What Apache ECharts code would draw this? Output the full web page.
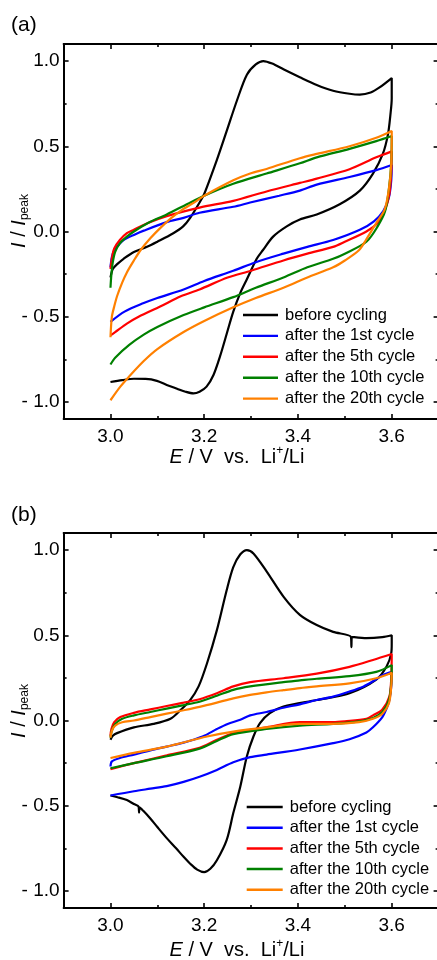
<!DOCTYPE html>
<html>
<head>
<meta charset="utf-8">
<script src="https://cdn.jsdelivr.net/npm/echarts@6/dist/echarts.min.js"></script>
<style>
  html, body { margin: 0; padding: 0; background: #fff; }
  #main { width: 437px; height: 960px; }
</style>
</head>
<body>
<div id="main"></div>
<script>
// legend names and colours
var names = ['before cycling', 'after the 1st cycle', 'after the 5th cycle', 'after the 10th cycle', 'after the 20th cycle'];
var colors = ['#000000', '#0000ff', '#ff0000', '#008000', '#ff8000'];

// tick positions
var xMajor = [3.0, 3.2, 3.4, 3.6];
var xMinor = [3.1, 3.3, 3.5];
var yMajor = [-1.0, -0.5, 0.0, 0.5, 1.0];
var yMinor = [-0.75, -0.25, 0.25, 0.75];

// panel (a): [E, I/Ipeak], forward scan then reverse scan
var aBefore = [
  [3.0,-0.27],[3.005,-0.22],[3.015,-0.19],[3.028,-0.16],[3.05,-0.12],[3.078,-0.09],[3.1,-0.06],[3.134,-0.01],
  [3.155,0.03],[3.17,0.08],[3.19,0.17],[3.2,0.22],[3.227,0.42],[3.248,0.59],[3.27,0.77],[3.291,0.92],[3.31,0.98],
  [3.326,1.0],[3.345,0.985],[3.37,0.95],[3.404,0.905],[3.44,0.86],[3.475,0.826],[3.51,0.808],[3.532,0.803],
  [3.555,0.815],[3.574,0.845],[3.6,0.90],
  [3.6,0.78],[3.597,0.68],[3.592,0.57],[3.581,0.455],[3.56,0.34],[3.532,0.24],[3.489,0.16],[3.44,0.10],[3.404,0.07],
  [3.376,0.03],[3.347,-0.03],[3.325,-0.11],[3.312,-0.16],[3.291,-0.28],[3.277,-0.36],[3.262,-0.47],[3.248,-0.6],
  [3.234,-0.73],[3.22,-0.84],[3.205,-0.91],[3.19,-0.94],[3.177,-0.95],[3.16,-0.94],[3.142,-0.922],[3.12,-0.9],
  [3.099,-0.876],[3.075,-0.865],[3.05,-0.864],[3.025,-0.872],[3.0,-0.883]
];
var aCycle1 = [
  [3.0,-0.21],[3.003,-0.15],[3.008,-0.11],[3.02,-0.07],[3.028,-0.05],[3.05,-0.02],[3.071,0.005],[3.12,0.055],
  [3.156,0.08],[3.19,0.11],[3.262,0.145],[3.298,0.17],[3.36,0.21],[3.404,0.24],[3.44,0.275],[3.51,0.32],[3.567,0.36],[3.6,0.39],
  [3.599,0.3],[3.594,0.2],[3.582,0.12],[3.562,0.06],[3.532,0.01],[3.475,-0.05],[3.42,-0.09],[3.369,-0.13],[3.31,-0.18],
  [3.262,-0.23],[3.2,-0.29],[3.156,-0.34],[3.1,-0.39],[3.071,-0.42],[3.03,-0.47],[3.0,-0.53]
];
var aCycle5 = [
  [3.0,-0.22],[3.003,-0.16],[3.008,-0.1],[3.02,-0.05],[3.035,-0.01],[3.05,0.01],[3.08,0.05],[3.12,0.09],[3.19,0.14],
  [3.262,0.18],[3.333,0.235],[3.404,0.285],[3.44,0.31],[3.51,0.365],[3.567,0.435],[3.6,0.47],
  [3.599,0.35],[3.595,0.22],[3.585,0.12],[3.57,0.05],[3.546,0.0],[3.5,-0.06],[3.475,-0.09],[3.42,-0.13],[3.369,-0.17],
  [3.3,-0.23],[3.25,-0.27],[3.19,-0.34],[3.15,-0.38],[3.106,-0.44],[3.06,-0.5],[3.035,-0.54],[3.01,-0.59],[3.0,-0.61]
];
var aCycle10 = [
  [3.0,-0.33],[3.002,-0.25],[3.005,-0.18],[3.01,-0.12],[3.02,-0.07],[3.035,-0.03],[3.05,0.0],[3.08,0.05],[3.12,0.1],
  [3.163,0.16],[3.2,0.21],[3.262,0.28],[3.333,0.34],[3.404,0.4],[3.44,0.435],[3.51,0.485],[3.567,0.53],[3.6,0.56],
  [3.599,0.4],[3.594,0.25],[3.586,0.12],[3.57,0.03],[3.546,-0.06],[3.5,-0.13],[3.475,-0.16],[3.42,-0.21],[3.369,-0.27],
  [3.31,-0.33],[3.262,-0.385],[3.2,-0.445],[3.156,-0.49],[3.1,-0.56],[3.071,-0.605],[3.04,-0.665],[3.01,-0.74],[3.0,-0.78]
];
var aCycle20 = [
  [3.0,-0.62],[3.003,-0.5],[3.008,-0.44],[3.014,-0.38],[3.025,-0.3],[3.035,-0.24],[3.05,-0.17],[3.064,-0.11],[3.085,-0.04],
  [3.106,0.02],[3.13,0.08],[3.149,0.12],[3.184,0.18],[3.2,0.21],[3.262,0.3],[3.298,0.34],[3.333,0.367],[3.404,0.43],
  [3.44,0.455],[3.51,0.5],[3.567,0.55],[3.6,0.59],
  [3.599,0.4],[3.594,0.25],[3.585,0.13],[3.567,0.05],[3.545,-0.05],[3.53,-0.11],[3.5,-0.17],[3.475,-0.21],[3.42,-0.27],
  [3.369,-0.33],[3.31,-0.39],[3.262,-0.445],[3.2,-0.525],[3.156,-0.59],[3.1,-0.69],[3.071,-0.76],[3.04,-0.85],[3.021,-0.91],[3.0,-0.99]
];

// panel (b)
var bBefore = [
  [3.0,-0.113],[3.005,-0.09],[3.014,-0.074],[3.05,-0.04],[3.092,-0.02],[3.128,0.01],[3.149,0.06],[3.17,0.12],[3.188,0.2],
  [3.206,0.336],[3.227,0.53],[3.248,0.766],[3.262,0.9],[3.277,0.975],[3.291,1.0],[3.305,0.98],[3.333,0.875],[3.369,0.727],
  [3.404,0.62],[3.44,0.56],[3.475,0.52],[3.513,0.49],[3.514,0.43],[3.515,0.49],[3.546,0.483],[3.58,0.489],[3.6,0.5],
  [3.6,0.45],[3.599,0.395],[3.589,0.317],[3.567,0.24],[3.51,0.16],[3.44,0.12],[3.369,0.082],[3.34,0.043],[3.319,-0.015],
  [3.305,-0.094],[3.291,-0.21],[3.277,-0.387],[3.262,-0.543],[3.248,-0.7],[3.227,-0.82],[3.213,-0.87],[3.2,-0.89],
  [3.185,-0.875],[3.17,-0.84],[3.156,-0.8],[3.14,-0.75],[3.12,-0.69],[3.1,-0.625],[3.085,-0.575],[3.07,-0.53],
  [3.062,-0.51],[3.061,-0.54],[3.06,-0.505],[3.05,-0.49],[3.035,-0.467],[3.015,-0.45],[3.0,-0.44]
];
var bCycle1 = [
  [3.0,-0.27],[3.003,-0.24],[3.02,-0.22],[3.05,-0.2],[3.085,-0.175],[3.12,-0.153],[3.156,-0.13],[3.177,-0.113],[3.2,-0.09],
  [3.227,-0.05],[3.25,-0.02],[3.277,0.004],[3.298,0.03],[3.333,0.05],[3.369,0.075],[3.404,0.095],[3.44,0.12],[3.475,0.14],
  [3.51,0.17],[3.54,0.2],[3.56,0.23],[3.58,0.265],[3.6,0.285],
  [3.599,0.2],[3.595,0.12],[3.589,0.07],[3.58,0.02],[3.56,-0.04],[3.546,-0.07],[3.51,-0.11],[3.475,-0.133],[3.404,-0.17],
  [3.333,-0.2],[3.298,-0.215],[3.262,-0.245],[3.227,-0.29],[3.19,-0.33],[3.156,-0.36],[3.12,-0.385],[3.085,-0.4],[3.05,-0.415],[3.0,-0.44]
];
var bCycle5 = [
  [3.0,-0.09],[3.002,-0.05],[3.008,-0.01],[3.021,0.02],[3.05,0.045],[3.085,0.065],[3.12,0.085],[3.156,0.105],[3.19,0.125],
  [3.227,0.16],[3.262,0.2],[3.298,0.225],[3.369,0.248],[3.44,0.275],[3.51,0.315],[3.56,0.355],[3.6,0.39],
  [3.599,0.25],[3.595,0.14],[3.58,0.065],[3.56,0.03],[3.546,0.01],[3.5,-0.005],[3.475,-0.01],[3.404,-0.01],[3.333,-0.04],
  [3.298,-0.055],[3.262,-0.075],[3.227,-0.113],[3.19,-0.16],[3.12,-0.205],[3.05,-0.25],[3.0,-0.285]
];
var bCycle10 = [
  [3.0,-0.1],[3.003,-0.06],[3.01,-0.02],[3.025,0.01],[3.05,0.03],[3.085,0.05],[3.12,0.07],[3.156,0.09],[3.19,0.11],
  [3.227,0.145],[3.262,0.18],[3.298,0.2],[3.369,0.225],[3.404,0.235],[3.44,0.245],[3.51,0.26],[3.567,0.285],[3.6,0.325],
  [3.599,0.22],[3.594,0.12],[3.58,0.05],[3.56,0.015],[3.53,-0.005],[3.475,-0.02],[3.404,-0.03],[3.333,-0.05],
  [3.262,-0.08],[3.227,-0.12],[3.19,-0.165],[3.12,-0.21],[3.05,-0.25],[3.0,-0.28]
];
var bCycle20 = [
  [3.0,-0.1],[3.003,-0.06],[3.01,-0.03],[3.025,-0.01],[3.05,0.0],[3.085,0.02],[3.12,0.04],[3.156,0.06],[3.19,0.08],
  [3.227,0.105],[3.262,0.13],[3.298,0.15],[3.333,0.165],[3.369,0.178],[3.404,0.19],[3.44,0.2],[3.51,0.218],[3.567,0.248],[3.6,0.28],
  [3.599,0.2],[3.594,0.1],[3.58,0.04],[3.56,0.01],[3.53,-0.01],[3.475,-0.02],[3.404,-0.02],[3.333,-0.04],[3.262,-0.065],
  [3.206,-0.094],[3.12,-0.153],[3.05,-0.19],[3.0,-0.22]
];

var panels = [
  [aBefore, aCycle1, aCycle5, aCycle10, aCycle20],
  [bBefore, bCycle1, bCycle5, bCycle10, bCycle20]
];

var FONT = '"Liberation Sans", Arial, sans-serif';
var gridTops = [44, 533];

function fmtY(v) {
    if (v < 0) return '- ' + (-v).toFixed(1);
    return v.toFixed(1);
}

var grids = [], xAxes = [], yAxes = [], series = [], legends = [];
for (var g = 0; g < 2; g++) {
    grids.push({left: 63.6, top: gridTops[g], width: 375, height: 375, outerBoundsMode: 'none', containLabel: false});
    var sides = ['bottom', 'top'];
    for (var s = 0; s < 2; s++) {
        // major ticks + labels
        xAxes.push({
            gridIndex: g, type: 'value', position: sides[s], min: 2.9, max: 3.7, interval: 0.1,
            axisLine: {show: true, onZero: false, lineStyle: {color: '#000', width: 2}},
            axisTick: {show: true, inside: true, length: 5, customValues: xMajor, lineStyle: {color: '#000', width: 1.6}},
            axisLabel: {show: s == 0, customValues: xMajor, formatter: function (v) { return v.toFixed(1); },
                fontSize: 19, fontFamily: FONT, color: '#000', margin: 8},
            splitLine: {show: false}
        });
        // minor ticks
        xAxes.push({
            gridIndex: g, type: 'value', position: sides[s], min: 2.9, max: 3.7, interval: 0.1,
            axisLine: {show: false, onZero: false},
            axisTick: {show: true, inside: true, length: 3, customValues: xMinor, lineStyle: {color: '#000', width: 1.6}},
            axisLabel: {show: false},
            splitLine: {show: false}
        });
    }
    var ysides = ['left', 'right'];
    for (var s = 0; s < 2; s++) {
        yAxes.push({
            gridIndex: g, type: 'value', position: ysides[s], min: -1.1, max: 1.1, interval: 0.1,
            axisLine: {show: true, onZero: false, lineStyle: {color: '#000', width: 2}},
            axisTick: {show: true, inside: true, length: 5, customValues: yMajor, lineStyle: {color: '#000', width: 1.6}},
            axisLabel: {show: s == 0, customValues: yMajor, formatter: fmtY,
                fontSize: 19, fontFamily: FONT, color: '#000', margin: 4},
            splitLine: {show: false}
        });
        yAxes.push({
            gridIndex: g, type: 'value', position: ysides[s], min: -1.1, max: 1.1, interval: 0.1,
            axisLine: {show: false, onZero: false},
            axisTick: {show: true, inside: true, length: 3, customValues: yMinor, lineStyle: {color: '#000', width: 1.6}},
            axisLabel: {show: false},
            splitLine: {show: false}
        });
    }
    for (var i = 0; i < 5; i++) {
        series.push({
            name: names[i], type: 'line', xAxisIndex: g * 4, yAxisIndex: g * 4,
            data: panels[g][i], symbol: 'none', smooth: 0.3, animation: false,
            lineStyle: {color: colors[i], width: 2.2}, itemStyle: {color: colors[i]}
        });
    }
}

var legendIcon = 'path://M0,0H35V2.4H0Z';
legends.push({
    orient: 'vertical', left: 243, top: 306.5, padding: 0, itemWidth: 35, itemHeight: 14, itemGap: 3.9,
    icon: legendIcon, data: names, selectedMode: false,
    textStyle: {fontSize: 16.5, fontFamily: FONT, color: '#000', padding: [0, 0, 0, 2]}
});
legends.push({
    orient: 'vertical', left: 246.7, top: 798.5, padding: 0, itemWidth: 36, itemHeight: 14, itemGap: 3.7,
    icon: legendIcon, data: names, selectedMode: false,
    textStyle: {fontSize: 16.5, fontFamily: FONT, color: '#000', padding: [0, 0, 0, 2]}
});

var richNames = {
    i: {fontSize: 20, fontFamily: FONT, fontStyle: 'italic', lineHeight: 24, fill: '#000'},
    n: {fontSize: 20, fontFamily: FONT, lineHeight: 24, fill: '#000'},
    sub: {fontSize: 12, fontFamily: FONT, verticalAlign: 'bottom', fill: '#000'},
    sup: {fontSize: 12, fontFamily: FONT, verticalAlign: 'top', fill: '#000'}
};

var graphic = [];
var panelLabels = ['(a)', '(b)'];
var labelY = [25, 515];
var yNameY = [221, 711];
var xNameY = [457, 950];
for (var g = 0; g < 2; g++) {
    graphic.push({
        type: 'text', x: 11, y: labelY[g],
        style: {text: panelLabels[g], fontSize: 21, fontFamily: FONT, fill: '#000',
            align: 'left', verticalAlign: 'middle', textAlign: 'left', textVerticalAlign: 'middle'}
    });
    graphic.push({
        type: 'text', x: 19, y: yNameY[g], rotation: Math.PI / 2,
        style: {text: '{i|I}{n| / }{i|I}{sub|peak}', rich: richNames,
            align: 'center', verticalAlign: 'middle', textAlign: 'center', textVerticalAlign: 'middle'}
    });
    graphic.push({
        type: 'text', x: 237, y: xNameY[g],
        style: {text: '{i|E}{n| / V  vs.  Li}{sup|+}{n|/Li}', rich: richNames,
            align: 'center', verticalAlign: 'middle', textAlign: 'center', textVerticalAlign: 'middle'}
    });
}

var myChart = echarts.init(document.getElementById('main'), null, {renderer: 'canvas'});
myChart.setOption({
    animation: false,
    backgroundColor: '#ffffff',
    grid: grids,
    xAxis: xAxes,
    yAxis: yAxes,
    legend: legends,
    series: series,
    graphic: graphic
});
</script>
</body>
</html>
